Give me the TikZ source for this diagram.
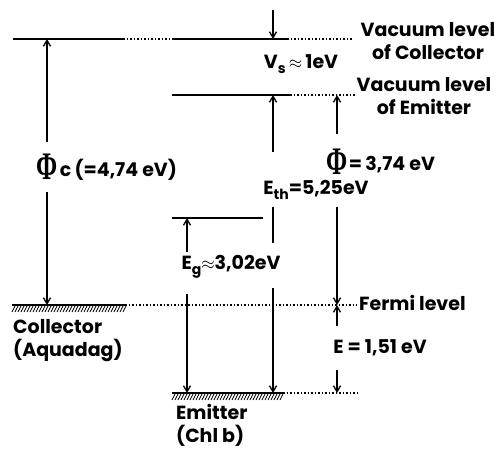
\documentclass[tikz,border=0pt]{standalone}
\usepackage{fontspec}
\usepackage{graphicx}
\setmainfont{Poppins}
\newfontfamily\phifont{Liberation Serif}
\usetikzlibrary{arrows.meta,positioning}

\newcommand{\lsub}[1]{\raisebox{-0.45ex}{\fontsize{14}{14}\selectfont #1}}
\newcommand{\bigPhi}{\scalebox{0.85}[1.3]{\fontsize{30}{30}\selectfont\phifont\bfseries Φ}}

\tikzset{
  level/.style={line width=2.2pt},
  vacdot/.style={line width=1.5pt, dash pattern=on 1.5pt off 2pt},
  hatch/.style={line width=0.8pt},
  gap/.style={-{Straight Barb[length=6pt,width=7pt]}, line width=1.3pt},
  lbl/.style={font=\fontsize{19}{23}\selectfont\bfseries, inner sep=1pt},
  phisym/.style={inner sep=0pt},
}

\begin{document}
\begin{tikzpicture}[x=1pt, y=-1pt]
  \useasboundingbox (0,0) rectangle (496,452);

  % energy levels
  \draw[level] (13,39) -- (123,39);
  \draw[vacdot] (123,39) -- (172,39);
  \draw[level] (172,39) -- (287,39);
  \draw[vacdot] (287,39) -- (352,39);
  \draw[level] (172,95) -- (290,95);
  \draw[vacdot] (290,95) -- (355,95);
  \draw[level] (172,218) -- (263,218);
  \draw[level] (12,305) -- (125,305);
  \draw[vacdot] (125,305) -- (357,305);
  \draw[level] (172,393) -- (283,393);
  \draw[vacdot] (283,393) -- (358,393);
  \foreach \hx in {15,18,...,126} \draw[hatch] (\hx,306) -- ++(-3,6);
  \foreach \hx in {175,178,...,284} \draw[hatch] (\hx,394) -- ++(-3,6);

  % points on the levels
  \coordinate (c-vac) at (47,39);
  \coordinate (c-fermi) at (47,305);
  \coordinate (s-top) at (273,10);
  \coordinate (s-vac) at (273,39);
  \coordinate (th-vac) at (273,95);
  \coordinate (th-base) at (273,393);
  \coordinate (p-vac) at (337,95);
  \coordinate (p-fermi) at (337,305);
  \coordinate (p-base) at (337,393);
  \coordinate (g-lumo) at (187,218);
  \coordinate (g-base) at (187,393);

  % labels
  \node[lbl, align=center] (vacc) at (428,41) {Vacuum level\\of Collector};
  \node[lbl, align=center] (vace) at (424,96) {Vacuum level\\of Emitter};
  \node[lbl, anchor=west] (fermi) at (358,303) {Fermi level};
  \node[lbl, anchor=north west, align=left] (coll) at (12,318) {Collector\\(Aquadag)};
  \node[lbl, anchor=north west, align=left] (emit) at (175,403) {Emitter\\(Chl b)};
  \node[lbl] (vs) at (301,64) {V\lsub{s}\,$\approx$\,1eV};
  \node[phisym] (phic) at (47,167) {\bigPhi};
  \node[lbl, anchor=west] (phicv) at ([xshift=1pt,yshift=-3pt]phic.east) {c\,(=4,74 eV)};
  \node[phisym] (phie) at (337,162) {\bigPhi};
  \node[lbl, anchor=west] (phiev) at ([yshift=-3pt]phie.east) {=\,3,74 eV};
  \node[lbl] (eth) at (316,190) {E\lsub{th}=5,25eV};
  \node[lbl] (eg) at (231,267) {E\lsub{g}$\approx$3,02eV};
  \node[lbl] (ef) at (380,348) {E = 1,51 eV};

  % gaps between levels
  \draw[gap] (s-top) -- (s-vac);
  \draw[gap, shorten <=12pt] (phic.north) -- (c-vac);
  \draw[gap, shorten <=12pt] (phic.south) -- (c-fermi);
  \draw[gap, shorten <=15pt] (phie.north) -- (p-vac);
  \draw[gap, shorten <=32pt] (phie.south) -- (p-fermi);
  \draw[gap, shorten <=27pt] (eth.north -| th-vac) -- (th-vac);
  \draw[line width=1.3pt, shorten <=6pt, shorten >=11pt] (eth.south -| th-vac) -- (eg.north -| th-vac);
  \draw[gap, shorten <=8pt] (eg.south -| th-base) -- (th-base);
  \draw[gap, shorten <=2pt] (eg.north -| g-lumo) -- (g-lumo);
  \draw[gap, shorten <=14pt] (eg.south -| g-base) -- (g-base);
  \draw[gap, shorten <=13pt] (ef.north -| p-fermi) -- (p-fermi);
  \draw[gap, shorten <=13pt] (ef.south -| p-base) -- (p-base);
\end{tikzpicture}
\end{document}
